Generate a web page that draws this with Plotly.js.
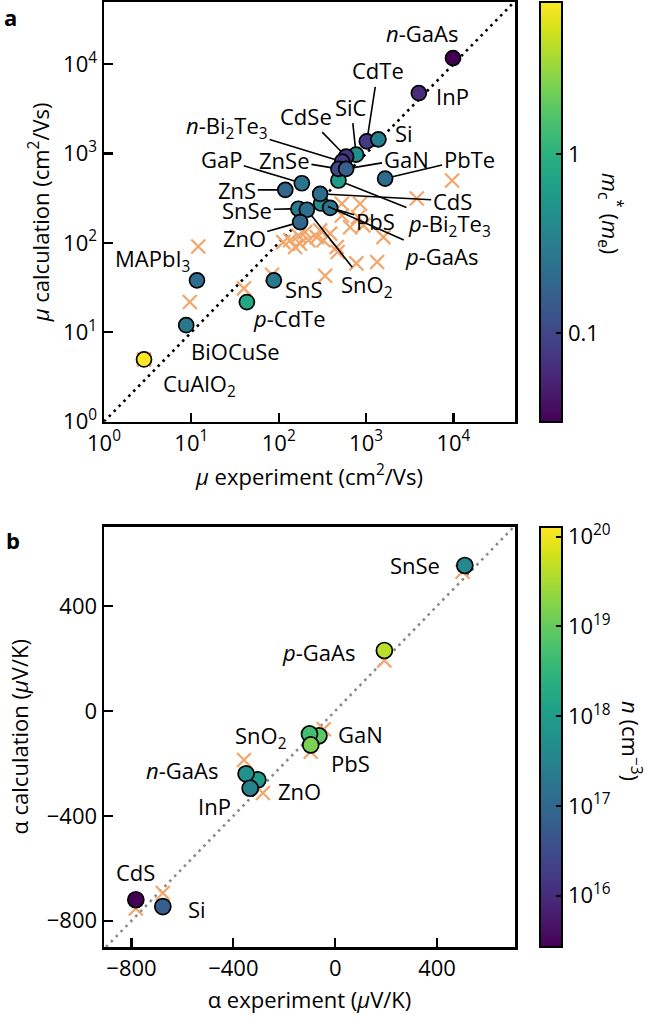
<!DOCTYPE html>
<html>
<head>
<meta charset="utf-8">
<script src="https://cdn.plot.ly/plotly-3.0.1.min.js"></script>
<style>html,body{margin:0;padding:0;background:#fff;}#chart{width:650px;height:1018px;}</style>
</head>
<body>
<div id="chart"></div>
<script>
// ---------- Panel a: mobility ----------
const labelsA = ['<i>p</i>-Bi<sub>2</sub>Te<sub>3</sub>','SiC','<i>p</i>-GaAs','<i>n</i>-GaAs','InP','CdTe','Si','CdSe','<i>n</i>-Bi<sub>2</sub>Te<sub>3</sub>','ZnSe','GaN','PbTe','GaP','ZnS','CdS','PbS','SnSe','SnO<sub>2</sub>','ZnO','MAPbI<sub>3</sub>','BiOCuSe','SnS','<i>p</i>-CdTe','CuAlO<sub>2</sub>'];
const muExpA  = [483, 769, 306, 9890, 4020, 1020, 1385, 591, 532, 483, 591, 1652, 184, 119, 298, 388, 168, 210, 176, 11.6, 8.73, 88, 43.2, 2.87];
const muCalcA = [499, 972, 276, 11670, 4745, 1370, 1440, 923, 812, 673, 673, 525, 465, 392, 354, 247, 241, 235, 171, 38.1, 12.0, 38.1, 21.8, 4.97];
const mEffA   = [0.62, 0.47, 0.47, 0.032, 0.062, 0.08, 0.32, 0.07, 0.08, 0.105, 0.16, 0.21, 0.25, 0.19, 0.22, 0.25, 0.30, 0.22, 0.19, 0.22, 0.28, 0.28, 0.81, 7.06];
const crossExpA  = [9660, 3810, 528, 855, 528, 657, 933, 1580, 298, 388, 273, 325, 219, 201, 168, 135, 176, 154, 113, 462, 472, 774, 1340, 340, 84, 40, 12, 9.6, 2.87, 811];
const crossCalcA = [499, 314, 274, 274, 203, 150, 157, 116, 138, 127, 116, 107, 107, 132, 121, 107, 98, 90, 102, 90, 79, 59, 61, 43, 44, 31, 91, 21.8, 4.97, 194];
const identityA = [1, 50000];
const tickValsA = [1, 10, 100, 1000, 10000];
const tickTextA = ['10<sup>0</sup>','10<sup>1</sup>','10<sup>2</sup>','10<sup>3</sup>','10<sup>4</sup>'];
const cbTickValsA = [0.1, 1];
const cbTickTextA = ['0.1', '1'];

// ---------- Panel b: Seebeck ----------
const labelsB = ['GaN','SnO<sub>2</sub>','PbS','ZnO','<i>n</i>-GaAs','InP','SnSe','<i>p</i>-GaAs','CdS','Si'];
const alphaExpB  = [-64, -101, -96, -304, -350, -334, 509, 193, -783, -677];
const alphaCalcB = [-95, -88, -130, -263, -240, -295, 554, 230, -720, -746];
const carrierB   = [8.7e18, 5.0e18, 1.5e19, 1.0e18, 5.9e17, 3.2e17, 4.0e17, 4.4e19, 2.7e15, 6.8e16];
const crossExpB  = [500, 193, -45, -96, -358, -284, -677, -783];
const crossCalcB = [530, 192, -70, -156, -187, -313, -694, -753];
const identityB = [-900, 700];
const tickValsB = [-800, -400, 0, 400];
const cbTickValsB = [1e16, 1e17, 1e18, 1e19, 1e20];
const cbTickTextB = ['10<sup>16</sup>','10<sup>17</sup>','10<sup>18</sup>','10<sup>19</sup>','10<sup>20</sup>'];

// label offsets (pixels, text centre relative to point); third item = leader line
const offA = {
  '<i>n</i>-GaAs':[-31,-25,false], 'InP':[34,3,false], 'CdTe':[11,-71,true], 'Si':[26,-6,false],
  'SiC':[-5,-48,true], 'CdSe':[-40,-41,true], '<i>n</i>-Bi<sub>2</sub>Te<sub>3</sub>':[-115,-35,true],
  'ZnSe':[-54,-9,true], 'GaN':[60,-10,true], 'PbTe':[84,-20,true], 'GaP':[-80,-24,true],
  'ZnS':[-48,0,true], 'CdS':[132,7,true], 'SnSe':[-51,1,true], 'PbS':[45,13,true],
  '<i>p</i>-Bi<sub>2</sub>Te<sub>3</sub>':[111,44,true], 'ZnO':[-56,16,true], '<i>p</i>-GaAs':[120,53,true],
  'SnO<sub>2</sub>':[60,76,true], 'SnS':[30,9,false], 'MAPbI<sub>3</sub>':[-44,-20,false],
  '<i>p</i>-CdTe':[43,16,false], 'BiOCuSe':[49,26,false], 'CuAlO<sub>2</sub>':[55,26,false]
};
const offB = {
  'SnSe':[-50,0], '<i>p</i>-GaAs':[-66,1], 'SnO<sub>2</sub>':[-49,3], 'GaN':[42,-2], 'PbS':[40,18],
  '<i>n</i>-GaAs':[-64,-4], 'ZnO':[42,11], 'InP':[-36,18], 'CdS':[0,-28], 'Si':[34,2]
};

const FONT = 'Open Sans, Noto Sans, sans-serif';
const FS = 22;
const CROSS = '#f3a66b';
const log10 = v => Math.log10(v);

const cA = mEffA.map(log10);
const cB = carrierB.map(log10);

const cbBase = {x:1.0599, xanchor:'left', yanchor:'middle', thickness:21.6, xpad:0, ypad:0,
  outlinewidth:2, outlinecolor:'#000', ticks:'inside', ticklen:7, tickwidth:2, tickcolor:'#000',
  tickfont:{family:FONT, size:FS, color:'#000'}};

const traces = [
  {x: identityA, y: identityA, xaxis:'x', yaxis:'y', mode:'lines', line:{color:'#000', width:2.6, dash:'2.6px,4.4px'}, hoverinfo:'skip', showlegend:false},
  {x: crossExpA, y: crossCalcA, xaxis:'x', yaxis:'y', mode:'markers', marker:{symbol:'x-thin', size:14, line:{color:CROSS, width:2.2}}, hoverinfo:'skip', showlegend:false},
  {x: muExpA, y: muCalcA, xaxis:'x', yaxis:'y', mode:'markers', showlegend:false, hoverinfo:'skip',
   marker:{size:15, color:cA, colorscale:'Viridis', cmin:Math.min(...cA), cmax:Math.max(...cA), line:{color:'#000', width:1.7},
     colorbar:Object.assign({}, cbBase, {y:0.778, len:0.444, tickvals: cbTickValsA.map(log10), ticktext: cbTickTextA})}},
  {x: identityB, y: identityB, xaxis:'x2', yaxis:'y2', mode:'lines', line:{color:'#8a8a8a', width:2.6, dash:'2.6px,4.4px'}, hoverinfo:'skip', showlegend:false},
  {x: crossExpB, y: crossCalcB, xaxis:'x2', yaxis:'y2', mode:'markers', marker:{symbol:'x-thin', size:14, line:{color:CROSS, width:2.2}}, hoverinfo:'skip', showlegend:false},
  {x: alphaExpB, y: alphaCalcB, xaxis:'x2', yaxis:'y2', mode:'markers', showlegend:false, hoverinfo:'skip',
   marker:{size:16, color:cB, colorscale:'Viridis', cmin:15.43, cmax:20.11, line:{color:'#000', width:1.7},
     colorbar:Object.assign({}, cbBase, {y:0.2224, len:0.4448, tickvals: cbTickValsB.map(log10), ticktext: cbTickTextB})}}
];

const annotations = [];
labelsA.forEach((lab, i) => {
  const o = offA[lab];
  const base = {xref:'x', yref:'y', x:log10(muExpA[i]), y:log10(muCalcA[i]), text:lab, font:{family:FONT, size:FS, color:'#000'}};
  if (o[2]) {
    annotations.push(Object.assign(base, {showarrow:true, arrowhead:0, arrowwidth:1.6, arrowcolor:'#000', ax:o[0], ay:o[1], standoff:7.5}));
  } else {
    annotations.push(Object.assign(base, {showarrow:false, xshift:o[0], yshift:-o[1]}));
  }
});
labelsB.forEach((lab, i) => {
  const o = offB[lab];
  annotations.push({xref:'x2', yref:'y2', x:alphaExpB[i], y:alphaCalcB[i], text:lab, showarrow:false, xshift:o[0], yshift:-o[1], font:{family:FONT, size:FS, color:'#000'}});
});
const fixed = {showarrow:false, xanchor:'center', yanchor:'middle', xref:'paper', yref:'paper'};
// panel letters
annotations.push(Object.assign({x:-0.2275, y:0.984, text:'<b>a</b>', font:{family:FONT, size:22, color:'#000'}}, fixed));
annotations.push(Object.assign({x:-0.2202, y:0.4307, text:'<b>b</b>', font:{family:FONT, size:22, color:'#000'}}, fixed));
// colour-bar titles (reading top to bottom)
annotations.push(Object.assign({x:1.231, y:0.776, text:'<i>m</i><sub>c</sub><sup>*</sup> (<i>m</i><sub>e</sub>)', textangle:90, font:{family:FONT, size:FS, color:'#000'}}, fixed));
annotations.push(Object.assign({x:1.282, y:0.218, text:'<i>n</i> (cm<sup>−3</sup>)', textangle:90, font:{family:FONT, size:FS, color:'#000'}}, fixed));

const axBase = {showgrid:false, zeroline:false, showline:true, mirror:true, linecolor:'#000', linewidth:2.5,
  ticks:'inside', ticklen:9, tickwidth:2.2, tickcolor:'#000', tickfont:{family:FONT, size:FS, color:'#000'}};

const layout = {
  width:650, height:1018, margin:{l:104, r:135, t:2, b:71},
  paper_bgcolor:'#fff', plot_bgcolor:'#fff', showlegend:false,
  font:{family:FONT, size:FS, color:'#000'},
  xaxis: Object.assign({}, axBase, {type:'log', range:[0, 4.705], domain:[0,1], anchor:'y',
    tickvals:tickValsA, ticktext:tickTextA,
    title:{text:'<i>μ</i> experiment (cm<sup>2</sup>/Vs)', font:{family:FONT, size:FS, color:'#000'}, standoff:14}}),
  yaxis: Object.assign({}, axBase, {type:'log', range:[0, 4.695], domain:[0.5559,1], anchor:'x',
    tickvals:tickValsA, ticktext:tickTextA,
    title:{text:'<i>μ</i> calculation (cm<sup>2</sup>/Vs)', font:{family:FONT, size:FS, color:'#000'}, standoff:8}}),
  xaxis2: Object.assign({}, axBase, {range:[-908, 706], domain:[0,1], anchor:'y2', tickvals:tickValsB,
    title:{text:'α experiment (<i>μ</i>V/K)', font:{family:FONT, size:FS, color:'#000'}, standoff:12}}),
  yaxis2: Object.assign({}, axBase, {range:[-900, 702], domain:[0,0.4448], anchor:'x2', tickvals:tickValsB,
    title:{text:'α calculation (<i>μ</i>V/K)', font:{family:FONT, size:FS, color:'#000'}, standoff:12}}),
  annotations: annotations
};

Plotly.newPlot('chart', traces, layout, {displayModeBar:false, staticPlot:true});
</script>
</body>
</html>
